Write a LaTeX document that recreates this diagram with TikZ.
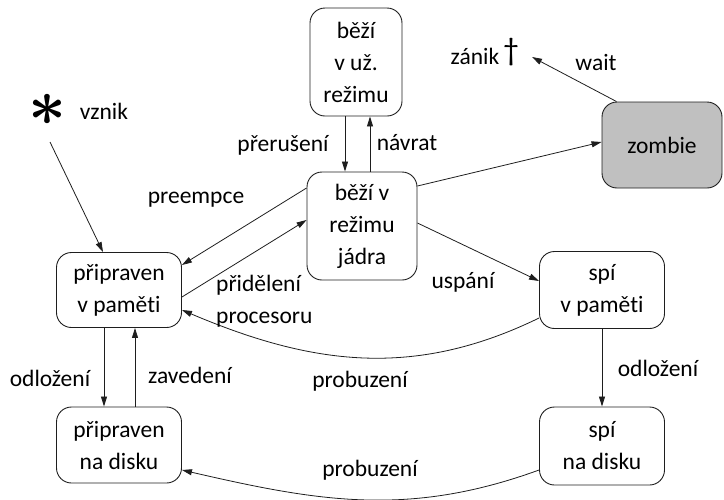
\documentclass[tikz,border=0pt]{standalone}
\usepackage{fontspec}
\setmainfont{Carlito}[Ligatures=NoCommon]
\usepackage{graphicx}
\usetikzlibrary{arrows.meta}
\definecolor{zgray}{RGB}{192,192,192}
\definecolor{lncol}{RGB}{30,30,30}
\begin{document}
\begin{tikzpicture}[x=1pt,y=-1pt,
  state/.style={draw=lncol, rounded corners=15pt, align=center, inner sep=0pt, line width=0.9pt, font=\fontsize{23.5}{32}\selectfont},
  lbl/.style={font=\fontsize{23.5}{32}\selectfont, inner sep=0pt, align=center},
  arr/.style={draw=lncol, -{Triangle[length=10pt,width=6pt]}, line width=0.8pt}]
\useasboundingbox (0,0) rectangle (724,499);
% states
\node[state, minimum width=92pt, minimum height=108pt] (user) at (356,62) {běží\\v už.\\režimu};
\node[state, minimum width=110pt, minimum height=108pt] (kern) at (362,226) {běží v\\režimu\\jádra};
\node[state, minimum width=125pt, minimum height=75pt] (rmem) at (119,290) {připraven\\v paměti};
\node[state, minimum width=125pt, minimum height=76pt] (rdisk) at (119,445) {připraven\\na disku};
\node[state, minimum width=125pt, minimum height=77pt] (smem) at (602,290) {spí\\v paměti};
\node[state, minimum width=125pt, minimum height=78pt] (sdisk) at (602,446) {spí\\na disku};
\node[state, fill=zgray, minimum width=120pt, minimum height=86pt] (zombie) at (662,145) {zombie};
% symbols
\node[inner sep=0pt] (ast) at (47,110) {\scalebox{6.6}{\boldmath$\ast$}};
\node[lbl] (vznik) at (104,111) {vznik};
\node[lbl] (zanik) at (475,56) {zánik};
\node[inner sep=0pt, font=\fontsize{32}{32}\selectfont] (dag) at (511,52) {†};
\coordinate (vz) at (50,142);
\coordinate (zend) at (532,57);
% arrows
\draw[arr] (vz) -- ([xshift=-16pt]rmem.north);
\draw[arr] ([xshift=-11pt]user.south) -- ([xshift=-17pt]kern.north);
\draw[arr] ([xshift=8pt]kern.north) -- ([xshift=14pt]user.south);
\draw[arr] ([yshift=38pt]kern.west) -- ([yshift=25pt]rmem.east);
\draw[arr] ([yshift=-7pt]rmem.east) -- ([yshift=6pt]kern.west);
\draw[arr] ([yshift=3pt]kern.east) -- ([yshift=9pt]smem.west);
\draw[arr] ([yshift=40pt]kern.east) -- ([yshift=3pt]zombie.west);
\draw[arr] ([xshift=15pt]zombie.north west) -- (zend);
\draw[arr] ([yshift=-28pt]smem.west) to[out=-154,in=-23] ([yshift=-20pt]rmem.east);
\draw[arr] ([yshift=-24pt]sdisk.west) to[out=-160,in=-13] ([yshift=-25pt]rdisk.east);
\draw[arr] ([xshift=-15pt]rmem.south) -- ([xshift=-15pt]rdisk.north);
\draw[arr] ([xshift=16pt]rdisk.north) -- ([xshift=16pt]rmem.south);
\draw[arr] (smem.south) -- (sdisk.north);
% labels
\node[lbl] at (283,145) {přerušení};
\node[lbl] at (407,143) {návrat};
\node[lbl] at (196,200) {preempce};
\node[lbl, align=left, anchor=west] at (216,301) {přidělení\\procesoru};
\node[lbl] at (463,282) {uspání};
\node[lbl] at (596,62) {wait};
\node[lbl] at (50,378) {odložení};
\node[lbl] at (190,375) {zavedení};
\node[lbl] at (360,381) {probuzení};
\node[lbl] at (370,470) {probuzení};
\node[lbl] at (658,368) {odložení};
\end{tikzpicture}
\end{document}
